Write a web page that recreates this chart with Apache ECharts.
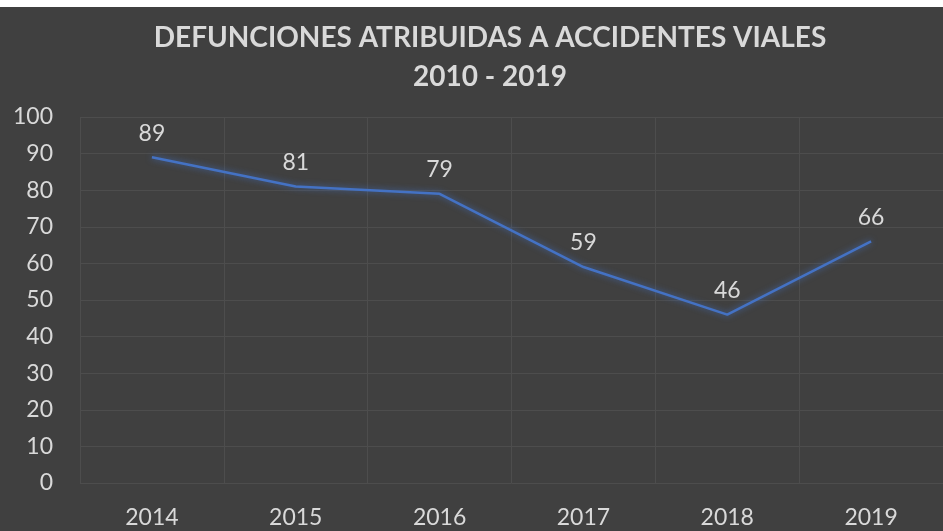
<!DOCTYPE html>
<html>
<head>
<meta charset="utf-8">
<script src="https://cdn.jsdelivr.net/npm/echarts@6/dist/echarts.min.js"></script>
<style>
  html, body { margin: 0; padding: 0; background: #ffffff; }
  #chart { position: absolute; left: 0; top: 7px; width: 943px; height: 524px; background: #404040; }
</style>
</head>
<body>
<div id="chart"></div>
<script>
// datos
const years = ["2014", "2015", "2016", "2017", "2018", "2019"];
const deaths = [89, 81, 79, 59, 46, 66];
const titleLines = ["DEFUNCIONES ATRIBUIDAS A ACCIDENTES VIALES", "2010 - 2019"];

const txt = "#d9d9d9";
const font = "Lato, 'Open Sans', sans-serif";

let chart = echarts.init(document.getElementById("chart"));
chart.setOption({
  backgroundColor: "#404040",
  title: {
    text: titleLines.join("\n"),
    left: 485,
    textAlign: "center",
    top: 6,
    textStyle: { color: txt, fontFamily: font, fontSize: 28, fontWeight: "bold", lineHeight: 39 }
  },
  grid: { left: 80, right: 0, top: 110, bottom: 48 },
  xAxis: {
    type: "category",
    data: years,
    boundaryGap: true,
    axisLine: { show: false },
    axisTick: { show: false },
    axisLabel: { color: txt, fontFamily: font, fontSize: 23, margin: 23 },
    splitLine: { show: true, lineStyle: { color: "#4d4d4d", width: 1 } }
  },
  yAxis: {
    type: "value",
    min: 0,
    max: 100,
    interval: 10,
    axisLine: { show: false },
    axisTick: { show: false },
    axisLabel: { color: txt, fontFamily: font, fontSize: 23, margin: 27 },
    splitLine: { lineStyle: { color: "#4d4d4d", width: 1 } }
  },
  series: [{
    type: "line",
    data: deaths,
    showSymbol: true,
    symbol: "circle",
    symbolSize: 1,
    itemStyle: { color: "rgba(0,0,0,0)" },
    lineStyle: { color: "#4472c4", width: 2.5, shadowColor: "rgba(68,114,196,0.8)", shadowBlur: 6 },
    label: { show: true, position: "top", distance: 12, color: txt, fontFamily: font, fontSize: 23 },
    silent: true,
    animation: false
  }]
});
</script>
</body>
</html>
